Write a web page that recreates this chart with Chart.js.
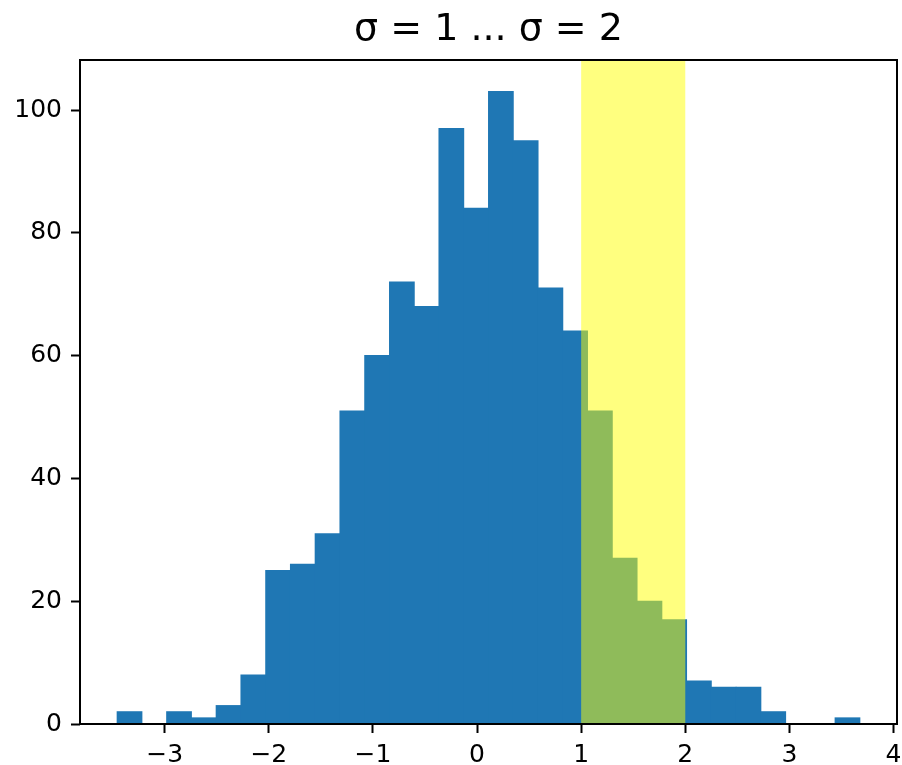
<!DOCTYPE html>
<html><head><meta charset="utf-8">
<script src="https://cdn.jsdelivr.net/npm/chart.js@4"></script>
<style>html,body{margin:0;padding:0;background:#fff}canvas{display:block}</style>
</head><body>
<canvas id="c" width="902" height="765"></canvas>
<script>
// Histogram bin edges (31 edges, 30 bins)
const binEdges = [-3.457, -3.219, -2.981, -2.744, -2.506, -2.268, -2.030, -1.792, -1.555, -1.317,
  -1.079, -0.841, -0.603, -0.366, -0.128, 0.110, 0.348, 0.586, 0.823, 1.061,
  1.299, 1.537, 1.775, 2.012, 2.250, 2.488, 2.726, 2.964, 3.201, 3.439, 3.677];
// Counts per bin
const counts = [2, 0, 2, 1, 3, 8, 25, 26, 31, 51,
  60, 72, 68, 97, 84, 103, 95, 71, 64, 51,
  27, 20, 17, 7, 6, 6, 2, 0, 0, 1];
// Highlighted span (axvspan)
const spanRange = [1, 2];
const xTicks = [-3, -2, -1, 0, 1, 2, 3, 4];
const yTicks = [0, 20, 40, 60, 80, 100];
const titleText = 'σ = 1 ... σ = 2';

const points = counts.map((c, i) => ({ x: (binEdges[i] + binEdges[i + 1]) / 2, y: c }));
const lo = binEdges[0], hi = binEdges[binEdges.length - 1];
const xm = (hi - lo) * 0.05;
const yMax = Math.max(...counts) * 1.05;
const FONT = 'DejaVu Sans';
const fmt = v => (v < 0 ? '\u2212' + Math.abs(v) : String(v));

const spanPlugin = {
  id: 'span',
  afterDatasetsDraw(chart) {
    const { ctx, chartArea: a, scales: { x } } = chart;
    const x0 = x.getPixelForValue(spanRange[0]);
    const x1 = x.getPixelForValue(spanRange[1]);
    ctx.save();
    ctx.fillStyle = 'rgba(255,255,0,0.5)';
    ctx.fillRect(x0, a.top, x1 - x0, a.bottom - a.top);
    ctx.restore();
  }
};
const framePlugin = {
  id: 'frame',
  afterDraw(chart) {
    const { ctx, chartArea: a } = chart;
    ctx.save();
    ctx.strokeStyle = '#000';
    ctx.lineWidth = 2;
    ctx.strokeRect(a.left, a.top, a.right - a.left, a.bottom - a.top);
    ctx.restore();
  }
};

new Chart(document.getElementById('c'), {
  type: 'bar',
  data: {
    datasets: [{
      data: points,
      backgroundColor: '#1f77b4',
      borderWidth: 0,
      inflateAmount: 0.5,
      barPercentage: 1,
      categoryPercentage: 1
    }]
  },
  options: {
    responsive: false,
    animation: false,
    layout: { padding: { left: 0, right: 5, top: 0, bottom: 0 } },
    plugins: {
      legend: { display: false },
      tooltip: { enabled: false },
      title: {
        display: true,
        fullSize: false,
        text: titleText,
        color: '#000',
        font: { family: FONT, size: 38, weight: 'normal' },
        padding: { top: 7, bottom: 7.4 }
      }
    },
    scales: {
      x: {
        type: 'linear',
        offset: false,
        min: lo - xm,
        max: hi + xm,
        afterBuildTicks: s => { s.ticks = xTicks.map(v => ({ value: v })); },
        afterFit: s => { s.height = 41; s.paddingLeft = 0; s.paddingRight = 0; },
        border: { display: false },
        grid: { offset: false, drawOnChartArea: false, drawTicks: true, tickLength: 9, tickWidth: 2, tickColor: '#000' },
        ticks: { color: '#000', font: { family: FONT, size: 25 }, padding: 7, maxRotation: 0, autoSkip: false, callback: fmt }
      },
      y: {
        type: 'linear',
        min: 0,
        max: yMax,
        afterBuildTicks: s => { s.ticks = yTicks.map(v => ({ value: v })); },
        afterFit: s => { s.width = 80; s.paddingTop = 0; s.paddingBottom = 0; },
        border: { display: false },
        grid: { drawOnChartArea: false, drawTicks: true, tickLength: 9, tickWidth: 2, tickColor: '#000' },
        ticks: { color: '#000', font: { family: FONT, size: 25 }, padding: 9, autoSkip: false, callback: fmt }
      }
    }
  },
  plugins: [spanPlugin, framePlugin]
});
</script>
</body></html>
